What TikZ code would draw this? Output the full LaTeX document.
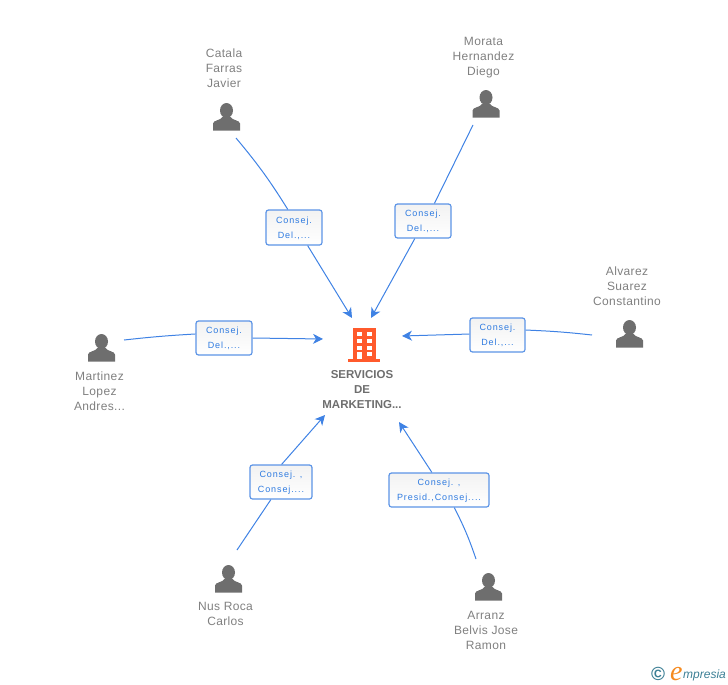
\documentclass[tikz,border=0pt]{standalone}
\usepackage{fontspec}
\usepackage{tikz}
\usetikzlibrary{arrows.meta}
\setmainfont{Liberation Sans}
\newfontfamily\namefont[LetterSpace=3]{Liberation Sans}
\newfontfamily\rolefont[LetterSpace=10]{Liberation Sans}
\newfontfamily\logofont{Liberation Serif}
\definecolor{linkblue}{HTML}{3F82E4}
\definecolor{boxblue}{HTML}{5C94E6}
\definecolor{roletext}{HTML}{2F7BE0}
\definecolor{icongray}{HTML}{6E6E6E}
\definecolor{buildred}{HTML}{FF5A2C}
\definecolor{logoteal}{HTML}{3C7F95}
\definecolor{logoorange}{HTML}{F58A1F}
\tikzset{
  personname/.style={text=gray, align=center, inner sep=0pt, font=\namefont\fontsize{12}{15}\selectfont},
  company/.style={text=icongray, align=center, inner sep=0pt, font=\bfseries\fontsize{11.5}{15}\selectfont},
  rolebox/.style={draw=boxblue, line width=1.2pt, rounded corners=2.5pt, top color=black!5, bottom color=white, text=roletext, align=center, inner sep=0pt, font=\rolefont\fontsize{9}{15}\selectfont},
  link/.style={draw=linkblue, line width=1pt},
  linkarrow/.style={link, -{Stealth[length=10pt,width=10pt,inset=3pt]}},
  personicon/.pic={
    \fill[icongray] (0,-6.5) ellipse[x radius=6.5, y radius=7.5];
    \fill[icongray] (-13.5,13.5) -- (-13.5,6.5) .. controls (-13,3) and (-6,3.5) .. (-4,0) -- (4,0) .. controls (6,3.5) and (13,3) .. (13.5,6.5) -- (13.5,13.5) -- cycle;
  }
}
\begin{document}
\begin{tikzpicture}[x=1pt,y=-1pt]
\useasboundingbox (0,0) rectangle (728,685);

% company
\fill[buildred] (353,328) rectangle (375.5,359);
\fill[buildred] (348,359) rectangle (380,362);
\foreach \y in {332,339,346}
  \foreach \x in {357,367}
    \fill[white] (\x,\y) rectangle ++(5,4);
\fill[white] (367,352) rectangle ++(5,4);
\fill[white] (357,352) rectangle (362,359);
\node[company] (servicios) at (362,390) {SERVICIOS\\DE\\MARKETING...};

%% arrow ends at the company
\coordinate (fromcatala) at (352,318);
\coordinate (frommorata) at (371,318);
\coordinate (fromalvarez) at (402,336);
\coordinate (frommartinez) at (323,339);
\coordinate (fromnus) at (325,415);
\coordinate (fromarranz) at (399,422);

% people
\node[personname] (catala) at (224,68) {Catala\\Farras\\Javier};
\pic at (226.5,117) {personicon};
\coordinate (catalastart) at (236,138);

\node[personname] (morata) at (483.5,58) {Morata\\Hernandez\\Diego};
\pic at (486,104) {personicon};
\coordinate (moratastart) at (473,125);

\node[personname] (alvarez) at (627,286) {Alvarez\\Suarez\\Constantino};
\pic at (629.5,334) {personicon};
\coordinate (alvarezstart) at (592,335);

\node[personname] (martinez) at (99.5,391) {Martinez\\Lopez\\Andres...};
\pic at (101.5,348) {personicon};
\coordinate (martinezstart) at (124,340);

\node[personname] (nus) at (225.5,613.5) {Nus Roca\\Carlos};
\pic at (228.5,579) {personicon};
\coordinate (nusstart) at (237,550);

\node[personname] (arranz) at (486,630) {Arranz\\Belvis Jose\\Ramon};
\pic at (488.5,587) {personicon};
\coordinate (arranzstart) at (476,559);

% roles
\node[rolebox, minimum width=56pt, minimum height=35pt] (catalarole) at (294,227.5) {\rule{0pt}{8pt}Consej.\\Del.,...};
\node[rolebox, minimum width=56pt, minimum height=34pt] (moratarole) at (423,221) {\rule{0pt}{8pt}Consej.\\Del.,...};
\node[rolebox, minimum width=55pt, minimum height=34pt] (alvarezrole) at (497.5,335) {\rule{0pt}{8pt}Consej.\\Del.,...};
\node[rolebox, minimum width=56pt, minimum height=34pt] (martinezrole) at (224,338) {\rule{0pt}{8pt}Consej.\\Del.,...};
\node[rolebox, minimum width=62pt, minimum height=34pt] (nusrole) at (281,482) {\rule{0pt}{8pt}Consej. ,\\Consej....};
\node[rolebox, minimum width=100pt, minimum height=34pt] (arranzrole) at (439,490) {\rule{0pt}{8pt}Consej. ,\\Presid.,Consej....};

% connectors
\draw[link] (catalastart) to[bend left=4] (catalarole.109);
\draw[linkarrow] (catalarole.-53) -- (fromcatala);
\draw[link] (moratastart) -- (moratarole.57);
\draw[linkarrow] (moratarole.245) -- (frommorata);
\draw[link] (alvarezstart) to[bend right=2] (alvarezrole.10);
\draw[linkarrow] (alvarezrole.178) -- (fromalvarez);
\draw[link] (martinezstart) to[bend left=1.5] (martinezrole.172);
\draw[linkarrow] (martinezrole.0) -- (frommartinez);
\draw[link] (nusstart) -- (nusrole.240);
\draw[linkarrow] (nusrole.88) -- (fromnus);
\draw[link] (arranzstart) to[bend right=4] (arranzrole.-49);
\draw[linkarrow] (arranzrole.112) -- (fromarranz);

% logo
\node[text=logoteal, inner sep=0pt, font=\bfseries\fontsize{19}{19}\selectfont] (copyright) at (658,674) {©};
\node[text=logoorange, inner sep=0pt, anchor=base west, font=\logofont\itshape\fontsize{28}{28}\selectfont] (logoe) at (670,680) {e};
\node[text=logoteal, inner sep=0pt, anchor=base west, font=\itshape\fontsize{12}{12}\selectfont] (logotext) at (683,678) {mpresia};
\end{tikzpicture}
\end{document}
